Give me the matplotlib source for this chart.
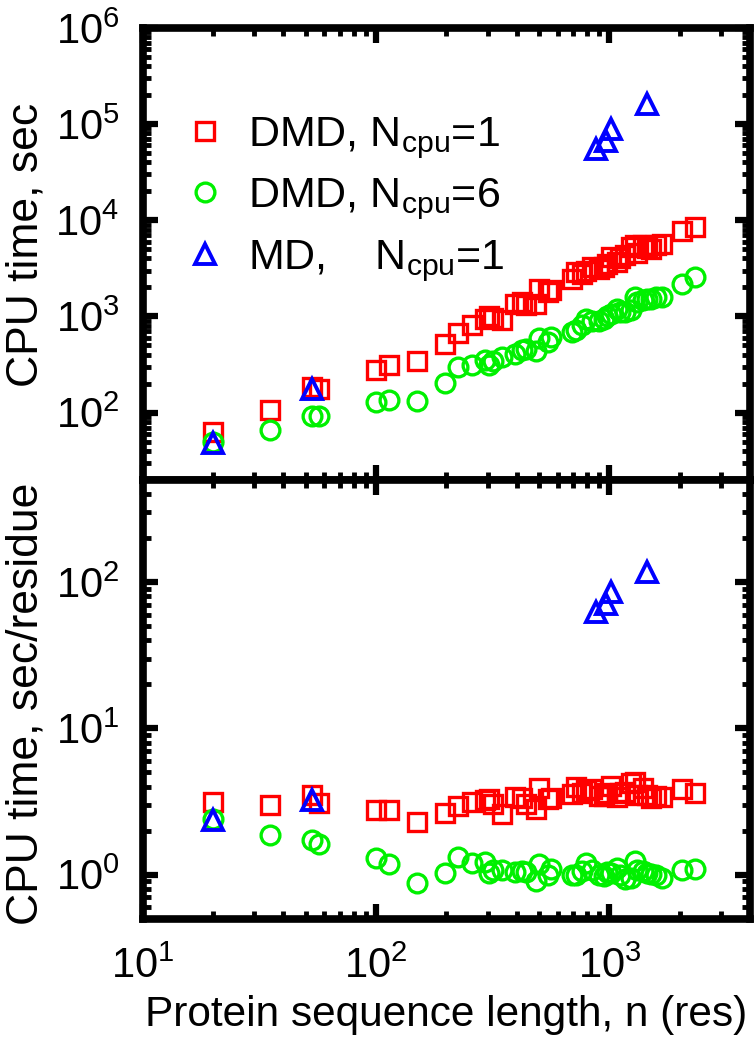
import matplotlib
matplotlib.use('Agg')
import matplotlib.pyplot as plt
from matplotlib.ticker import LogLocator, NullFormatter

plt.rcParams['font.family'] = ['Liberation Sans', 'DejaVu Sans']
plt.rcParams['mathtext.fontset'] = 'custom'
plt.rcParams['mathtext.rm'] = 'Liberation Sans'
plt.rcParams['mathtext.it'] = 'Liberation Sans:italic'
plt.rcParams['mathtext.bf'] = 'Liberation Sans:bold'

# protein lengths (residues), shared by both DMD runs
n_res = [20, 35, 53, 57, 100, 113, 150, 198, 225, 257, 292, 305, 318, 347,
         395, 420, 440, 485, 500, 545, 560, 690, 720, 760, 795, 840, 905,
         950, 980, 1020, 1080, 1110, 1165, 1240, 1280, 1310, 1390, 1450,
         1510, 1590, 1680, 2040, 2330]

# CPU time, sec
dmd1_time = [63, 106, 185, 177, 275, 310, 344, 520, 665, 810, 950, 1000, 960, 910,
             1350, 1400, 1330, 1360, 1950, 1800, 1870, 2460, 2880, 2750, 3000, 3250, 3130,
             3300, 3520, 4130, 3660, 4000, 4300, 5250, 5500, 4600, 5460, 5100,
             5040, 5460, 5680, 7810, 8450]
dmd6_time = [49, 66, 92, 93, 130, 134, 133, 205, 298, 310, 355, 310, 345, 375,
             410, 445, 460, 440, 590, 545, 610, 690, 720, 805, 950, 900, 905,
             930, 1020, 1050, 1200, 1110, 1100, 1180, 1590, 1400, 1470, 1500,
             1530, 1590, 1600, 2190, 2570]

# CPU time per residue, sec/residue
dmd1_per_res = [3.15, 3.0, 3.5, 3.1, 2.75, 2.75, 2.3, 2.63, 2.95, 3.15, 3.25, 3.28, 3.02, 2.62,
                3.42, 3.33, 3.02, 2.8, 3.9, 3.3, 3.34, 3.55, 4.0, 3.6, 3.78, 3.87, 3.46,
                3.47, 3.6, 4.05, 3.39, 3.6, 3.69, 4.23, 4.3, 3.5, 3.93, 3.52,
                3.34, 3.43, 3.38, 3.83, 3.63]
dmd6_per_res = [2.4, 1.88, 1.73, 1.63, 1.3, 1.19, 0.88, 1.03, 1.32, 1.2, 1.22, 1.02, 1.08, 1.08,
                1.04, 1.06, 1.05, 0.9, 1.18, 1.0, 1.09, 1.0, 1.0, 1.06, 1.2, 1.07, 1.0,
                0.98, 1.04, 1.03, 1.11, 1.0, 0.94, 0.95, 1.24, 1.07, 1.06, 1.03,
                1.01, 1.0, 0.95, 1.07, 1.1]

# plain MD, one CPU
md_n = [20, 53, 873, 962, 1015, 1442]
md_time = [48, 177, 55000, 67000, 88700, 161000]
md_per_res = [2.37, 3.25, 62.4, 71, 85.5, 117]

labels = [r'DMD, N$_{\mathrm{cpu}}$=1', r'DMD, N$_{\mathrm{cpu}}$=6', r'MD,    N$_{\mathrm{cpu}}$=1']

fig = plt.figure(figsize=(7.56, 10.5), dpi=100)
ax1 = fig.add_axes([0.189, 0.543, 0.803, 0.4305])
ax2 = fig.add_axes([0.189, 0.125, 0.803, 0.418], sharex=ax1)

sq = dict(marker='s', ls='none', mfc='none', mec='#ff0000', ms=13, mew=2.4)
ci = dict(marker='o', ls='none', mfc='none', mec='#00f000', ms=13.5, mew=2.4)
tr = dict(marker='^', ls='none', mfc='none', mec='#0000ff', ms=14, mew=2.8)

ax1.plot(n_res, dmd1_time, label=labels[0], **sq)
ax1.plot(n_res, dmd6_time, label=labels[1], **ci)
ax1.plot(md_n, md_time, label=labels[2], **tr)

ax2.plot(n_res, dmd1_per_res, **sq)
ax2.plot(n_res, dmd6_per_res, **ci)
ax2.plot(md_n, md_per_res, **tr)

for ax in (ax1, ax2):
    ax.set_xscale('log')
    ax.set_yscale('log')
    ax.xaxis.set_minor_locator(LogLocator(base=10, subs=range(2, 10), numticks=20))
    ax.yaxis.set_minor_locator(LogLocator(base=10, subs=range(2, 10), numticks=20))
    ax.yaxis.set_minor_formatter(NullFormatter())
    ax.tick_params(which='both', direction='in', top=True, right=True, labelsize=30)
    ax.tick_params(which='major', length=11, width=4.5)
    ax.tick_params(which='minor', length=6, width=3.5)
    ax.tick_params(axis='y', which='major', pad=17)
    ax.tick_params(axis='x', which='major', pad=20)
    for s in ax.spines.values():
        s.set_linewidth(5.5)

ax1.set_xlim(10, 4000)
ax1.set_ylim(20, 1e6)
ax2.set_ylim(0.5, 500)
ax1.tick_params(axis='x', labelbottom=False)

ax1.set_ylabel('CPU time, sec', fontsize=32)
ax2.set_ylabel('CPU time, sec/residue', fontsize=32)
ax1.yaxis.set_label_coords(-0.158, 0.52)
ax2.yaxis.set_label_coords(-0.158, 0.49)
ax2.set_xlabel('Protein sequence length, n (res)', fontsize=30.5, labelpad=6)

ax1.legend(loc='upper left', bbox_to_anchor=(0.025, 0.845), frameon=False, fontsize=31,
           handlelength=1.4, handletextpad=0.3, labelspacing=0.36, borderaxespad=0)

fig.savefig('out.png', dpi=100)
